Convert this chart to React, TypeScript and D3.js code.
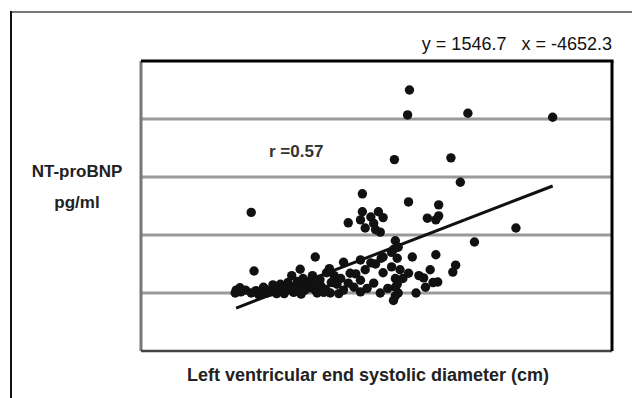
import * as d3 from "d3";
import { useEffect, useRef } from "react";

// LVESD (cm) vs NT-proBNP (pg/ml)
const lvesd: number[] = [
  4.85, 4.83, 5.47, 6.37, 4.69, 5.29, 5.39, 3.17, 4.35, 4.84, 5.16,
  4.35, 4.52, 4.44, 4.33, 4.2, 4.38, 4.49, 4.54, 4.47, 4.57, 5.04, 5.13, 5.16,
  5.54, 5.98, 3.2, 3.85, 3.69, 4.15,
  4.33, 4.57, 4.73, 4.88, 5.13, 5.34, 5.31, 5.07, 5.0, 5.15, 4.84, 4.7, 4.75,
  4.47, 4.33, 4.2, 4.15, 4.33, 4.54, 4.73, 5.02, 4.22, 4.44, 4.57,
  4.7, 4.68, 4.72, 4.66, 4.7, 4.72, 4.7, 4.68, 4.55, 4.66, 4.49, 4.38, 4.28,
  3.01, 3.06, 3.11, 3.17, 3.22, 3.27, 3.32, 3.38, 3.43, 3.48, 3.54, 3.59, 3.64,
  3.69, 3.75, 3.8, 3.85, 3.91, 3.96, 4.01, 3.66, 3.72, 3.78, 3.6, 3.82, 3.48,
  3.3, 3.9, 3.97, 4.05, 4.08, 3.7, 3.52, 3.25, 3.0, 3.05, 3.4, 3.87, 4.1,
  3.56, 3.62, 3.74, 3.84, 3.94, 4.02, 4.12, 4.26, 4.4, 3.44, 3.34, 4.0,
  4.62, 4.78, 4.92, 5.1, 4.95,
];
const ntProBnp: number[] = [
  4500, 4070, 4100, 4030, 3300, 3330, 2910, 2390, 2710, 2570, 2520,
  2400, 2400, 2310, 2260, 2210, 2120, 2090, 2050, 2200, 2300, 2290, 2260, 2330,
  1880, 2120, 1380, 1620, 1410, 1530,
  1570, 1620, 1790, 1620, 1660, 1480, 1360, 1400, 1260, 1190, 1340, 1100, 1400,
  1170, 1220, 1170, 1050, 1020, 1000, 1000, 1100, 1340, 1520, 1350,
  1900, 1750, 1600, 1450, 1250, 1150, 950, 870, 1600, 1700, 1500, 1400, 1330,
  1050, 1020, 1050, 1000, 1040, 1010, 1060, 1020, 1080, 1030, 1100, 1050, 1120,
  1070, 1150, 1090, 1050, 1120, 1060, 1000, 1200, 1250, 1200, 1300, 1300, 1150,
  1100, 1230, 1350, 1300, 1150, 980, 990, 970, 1000, 1090, 1140, 1000, 990,
  1180, 1010, 1050, 1160, 1010, 1180, 1250, 1100, 1080, 990, 1000, 1420,
  1080, 1250, 1000, 1180, 1300,
];

// fitted line ends
const fitX: number[] = [3.01, 6.37];
const fitY: number[] = [740, 2845];

const gridValues: number[] = [1000, 2000, 3000, 4000];

const equationLabel = "y = 1546.7   x = -4652.3";
const rLabel = "r =0.57";
const yTitle = ["NT-proBNP", "pg/ml"];
const xTitle = "Left ventricular end systolic diameter (cm)";

function ScatterChart() {
  const svgRef = useRef<SVGSVGElement>(null);

  useEffect(() => {
    document.body.style.margin = "0";
    const svg = d3.select(svgRef.current);
    svg.selectAll("*").remove();

    const width = 632;
    const height = 398;
    const plot = { left: 141, top: 61, right: 612, bottom: 351 };
    const font = "'Liberation Sans', Arial, sans-serif";

    svg.attr("width", width).attr("height", height);

    svg.append("rect").attr("width", width).attr("height", height).attr("fill", "#fff");

    // outer frame (top + left only visible)
    svg.append("line")
      .attr("x1", 10).attr("x2", width).attr("y1", 12).attr("y2", 12)
      .attr("stroke", "#777").attr("stroke-width", 2);
    svg.append("line")
      .attr("x1", 11).attr("x2", 11).attr("y1", 11).attr("y2", height)
      .attr("stroke", "#111").attr("stroke-width", 2);

    const x = d3.scaleLinear().domain([2, 7]).range([plot.left, plot.right]);
    const y = d3.scaleLinear().domain([0, 5000]).range([plot.bottom, plot.top]);

    // gridlines
    svg.append("g")
      .selectAll("line")
      .data(gridValues)
      .enter()
      .append("line")
      .attr("x1", plot.left)
      .attr("x2", plot.right)
      .attr("y1", d => y(d))
      .attr("y2", d => y(d))
      .attr("stroke", "#9a9a9a")
      .attr("stroke-width", 3);

    // plot frame
    svg.append("line")
      .attr("x1", plot.left).attr("x2", plot.left).attr("y1", plot.top).attr("y2", plot.bottom)
      .attr("stroke", "#777").attr("stroke-width", 3);
    svg.append("line")
      .attr("x1", plot.left).attr("x2", plot.right).attr("y1", plot.bottom).attr("y2", plot.bottom)
      .attr("stroke", "#444").attr("stroke-width", 2.5);
    svg.append("line")
      .attr("x1", plot.left).attr("x2", plot.right + 1.5).attr("y1", plot.top).attr("y2", plot.top)
      .attr("stroke", "#000").attr("stroke-width", 3);
    svg.append("line")
      .attr("x1", plot.right).attr("x2", plot.right).attr("y1", plot.top).attr("y2", plot.bottom)
      .attr("stroke", "#000").attr("stroke-width", 3);

    // points
    svg.append("g")
      .selectAll("circle")
      .data(lvesd.map((v, i) => [v, ntProBnp[i]]))
      .enter()
      .append("circle")
      .attr("cx", d => x(d[0]))
      .attr("cy", d => y(d[1]))
      .attr("r", 4.7)
      .attr("fill", "#111");

    // regression line
    svg.append("line")
      .attr("x1", x(fitX[0])).attr("y1", y(fitY[0]))
      .attr("x2", x(fitX[1])).attr("y2", y(fitY[1]))
      .attr("stroke", "#111").attr("stroke-width", 3);

    // texts
    svg.append("text")
      .attr("x", plot.right).attr("y", 50)
      .attr("text-anchor", "end")
      .attr("font-family", font).attr("font-size", 18)
      .attr("fill", "#111")
      .style("white-space", "pre")
      .text(equationLabel);

    svg.append("text")
      .attr("x", 269).attr("y", 157)
      .attr("font-family", font).attr("font-size", 17).attr("font-weight", "bold")
      .attr("fill", "#333")
      .text(rLabel);

    svg.append("text")
      .attr("text-anchor", "middle")
      .attr("font-family", font).attr("font-size", 17).attr("font-weight", "bold")
      .attr("fill", "#222")
      .selectAll("tspan")
      .data(yTitle)
      .enter()
      .append("tspan")
      .attr("x", 77)
      .attr("y", (d, i) => 177 + i * 31)
      .text(d => d);

    svg.append("text")
      .attr("x", 368).attr("y", 381)
      .attr("text-anchor", "middle")
      .attr("font-family", font).attr("font-size", 18).attr("font-weight", "bold")
      .attr("fill", "#222")
      .text(xTitle);
  }, []);

  return <svg ref={svgRef} style={{ display: "block" }} />;
}

export default function App() {
  return <ScatterChart />;
}
